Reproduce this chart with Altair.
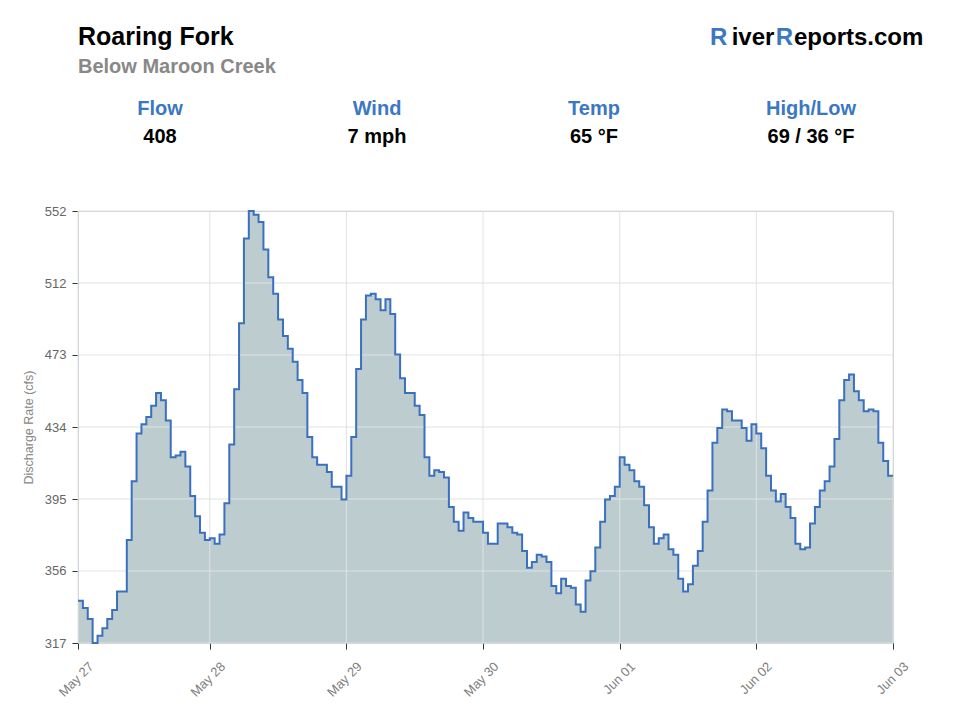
import altair as alt
import pandas as pd

# ---- data (hourly discharge, cfs) ----
flow = [340, 336, 330, 317, 321, 325, 330, 335, 345, 345,
        373, 405, 431, 436, 440, 446, 453, 449, 438, 418,
        419, 421, 413, 397, 386, 377, 373, 374, 371, 376,
        393, 425, 455, 491, 537, 552, 550, 546, 531, 516,
        507, 493, 484, 477, 470, 460, 453, 429, 418, 414,
        414, 410, 402, 402, 395, 408, 429, 466, 493, 506,
        507, 504, 498, 504, 496, 474, 461, 453, 453, 446,
        441, 418, 408, 411, 410, 407, 391, 383, 378, 388,
        385, 383, 383, 377, 371, 371, 382, 382, 380, 377,
        376, 367, 358, 361, 365, 364, 361, 348, 344, 352,
        348, 347, 338, 334, 351, 356, 369, 383, 395, 397,
        402, 418, 414, 411, 405, 402, 392, 380, 371, 374,
        376, 368, 365, 352, 345, 349, 359, 367, 383, 400,
        426, 434, 444, 443, 438, 438, 434, 427, 436, 431,
        423, 408, 400, 394, 398, 391, 385, 371, 368, 369,
        382, 391, 400, 405, 413, 428, 449, 460, 463, 454,
        449, 443, 444, 443, 426, 416, 408, 408]
hours = list(range(len(flow)))

x_tick_values = [0, 27, 55, 83, 111, 139, 167]
x_tick_labels = ["May 27", "May 28", "May 29", "May 30", "Jun 01", "Jun 02", "Jun 03"]
y_tick_values = [317, 356.17, 395.33, 434.5, 473.67, 512.83, 552]

title_text = "Roaring Fork"
subtitle_text = "Below Maroon Creek"
stat_labels = ["Flow", "Wind", "Temp", "High/Low"]
stat_values = ["408", "7 mph", "65 °F", "69 / 36 °F"]

FONT = "Liberation Sans"
BLUE = "#3b78c4"
LINE = "#3a70bf"
FILL = "#bdcccf"
GRID = "#dfe3e4"

df = pd.DataFrame({"hour": hours, "flow": flow})

xscale = alt.Scale(domain=[0, len(flow) - 1], nice=False, zero=False)
yscale = alt.Scale(domain=[min(flow), max(flow)], nice=False, zero=False)

arr = "[" + ",".join(str(v) for v in x_tick_values) + "]"
labs = "[" + ",".join("'" + s + "'" for s in x_tick_labels) + "]"
x_label_expr = f"{labs}[indexof({arr}, datum.value)]"

xaxis = alt.Axis(values=x_tick_values, labelExpr=x_label_expr, labelAngle=-45,
                 labelAlign="right", labelBaseline="middle",
                 labelOffset=13, labelPadding=15,
                 labelColor="#808080", labelFontSize=13, labelFont=FONT,
                 tickColor="#333333", tickSize=6, domain=False, grid=False,
                 title=None)
yaxis = alt.Axis(values=y_tick_values, labelExpr="floor(datum.value)",
                 labelColor="#666666", labelFontSize=13, labelFont=FONT,
                 labelPadding=6, tickColor="#333333", tickSize=6,
                 domain=False, grid=False,
                 title="Discharge Rate (cfs)", titleColor="#888888",
                 titleFontSize=12.5, titleFontWeight="normal", titleFont=FONT,
                 titlePadding=9)

X = alt.X("hour:Q", scale=xscale, axis=xaxis)
Y = alt.Y("flow:Q", scale=yscale, axis=yaxis)

area = alt.Chart(df).mark_area(interpolate="step-after", color=FILL, opacity=1,
                               clip=True).encode(x=X, y=Y)

ygrid = alt.Chart(pd.DataFrame({"flow": y_tick_values})).mark_rule(
    color=GRID, strokeWidth=1).encode(y=Y)
xgrid = alt.Chart(pd.DataFrame({"hour": x_tick_values})).mark_rule(
    color=GRID, strokeWidth=1).encode(x=X)

line = alt.Chart(df).mark_line(interpolate="step-after", color=LINE,
                               strokeWidth=2).encode(x=X, y=Y)

one = pd.DataFrame({"k": [0]})


def txt(s, x, y, size, color, align="left", weight="bold"):
    return alt.Chart(one).mark_text(
        text=s, align=align, baseline="alphabetic", font=FONT,
        fontSize=size, fontWeight=weight, color=color
    ).encode(x=alt.value(x), y=alt.value(y))


# offsets relative to plot origin (78, 211)
header = [
    txt(title_text, 0, -166, 25, "#000000"),
    txt(subtitle_text, 0, -138, 20, "#888888"),
    txt("R", 632, -166, 24, BLUE),
    txt("iver", 675, -166, 24, "#000000", align="center"),
    txt("R", 715, -166, 24, BLUE, align="right"),
    txt("eports.com", 716, -166, 24, "#000000"),
]
stat_x = [82, 299, 516, 733]
for sx, lab, val in zip(stat_x, stat_labels, stat_values):
    header.append(txt(lab, sx, -96, 20, BLUE, align="center"))
    header.append(txt(val, sx, -68, 20, "#000000", align="center"))

chart = alt.layer(area, ygrid, xgrid, line, *header).properties(
    width=815, height=432,
    autosize=alt.AutoSizeParams(type="none"),
    padding={"left": 78, "top": 211, "right": 67, "bottom": 77},
    background="white",
).configure_view(stroke="#cccccc", strokeWidth=1)

chart.save("out.html", embed_options={"renderer": "svg", "actions": False})
